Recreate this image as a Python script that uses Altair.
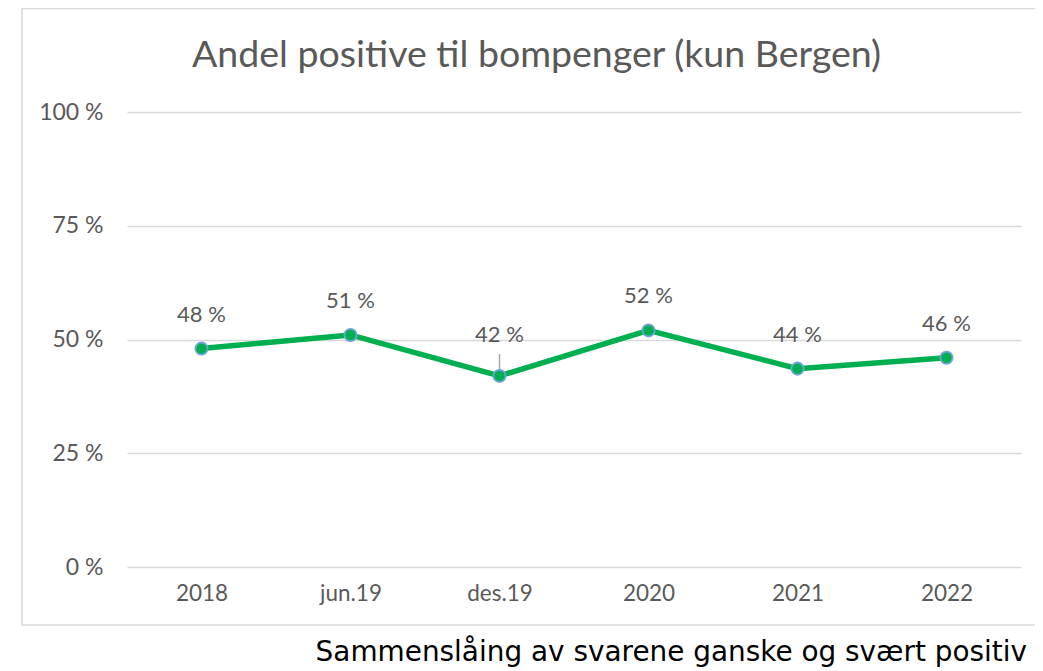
import altair as alt
import pandas as pd

categories = ["2018", "jun.19", "des.19", "2020", "2021", "2022"]
values = [48.0, 51.0, 42.0, 52.0, 43.6, 46.0]
labels = ["48 %", "51 %", "42 %", "52 %", "44 %", "46 %"]
y_ticks = [0, 25, 50, 75, 100]

df = pd.DataFrame({"cat": categories, "val": values, "lab": labels})

GREEN = "#00b050"
GREY = "#595959"
LABEL_FONT = "Lato"

x_enc = alt.X("cat:N", sort=categories,
              scale=alt.Scale(type="point", padding=0.5),
              axis=alt.Axis(title=None, labelAngle=0, ticks=False, domain=False,
                            labelFont=LABEL_FONT, labelFontSize=22.5, labelColor=GREY,
                            labelPadding=15, grid=False))
y_enc = alt.Y("val:Q", scale=alt.Scale(domain=[0, 100], nice=False, zero=True),
              axis=alt.Axis(title=None, values=y_ticks, ticks=False, domain=False,
                            labelExpr="datum.value + ' %'",
                            labelFont=LABEL_FONT, labelFontSize=23, labelColor=GREY,
                            labelPadding=24, gridColor="#d9d9d9", gridWidth=1.5))

base = alt.Chart(df).encode(x=x_enc, y=y_enc)

line = base.mark_line(color=GREEN, strokeWidth=5.5)
pts = base.mark_point(filled=True, fill=GREEN, stroke="#6fa3dc", strokeWidth=1.8,
                      size=150, opacity=1)

text_normal = base.transform_filter(alt.datum.cat != "des.19").mark_text(
    font=LABEL_FONT, fontSize=22, color=GREY, baseline="alphabetic", dy=-27
).encode(text="lab:N")

text_special = base.transform_filter(alt.datum.cat == "des.19").mark_text(
    font=LABEL_FONT, fontSize=22, color=GREY, baseline="alphabetic", dy=-34
).encode(text="lab:N")

leader = base.transform_filter(alt.datum.cat == "des.19").transform_calculate(
    top="datum.val + 4.8"
).mark_rule(color="#a6a6a6", strokeWidth=1.5).encode(y2="top:Q")

frame = alt.Chart(alt.Data(values=[{}])).mark_rect(
    fillOpacity=0, stroke="#d9d9d9", strokeWidth=1.5
).encode(x=alt.value(-105), x2=alt.value(960), y=alt.value(-103.5), y2=alt.value(513))

title = alt.Chart(alt.Data(values=[{}])).mark_text(
    text="Andel positive til bompenger (kun Bergen)",
    font=LABEL_FONT, fontSize=37.5, color=GREY, align="center", baseline="alphabetic"
).encode(x=alt.value(409.5), y=alt.value(-45))

footer = alt.Chart(alt.Data(values=[{}])).mark_text(
    text="Sammenslåing av svarene ganske og svært positiv",
    font="DejaVu Sans", fontSize=27.9, color="#000000", align="right", baseline="alphabetic"
).encode(x=alt.value(900), y=alt.value(549))

chart = alt.layer(frame, leader, line, pts, text_normal, text_special, title, footer).properties(
    width=894, height=455,
    padding={"left": 119, "top": 104, "right": 14, "bottom": 104},
    autosize=alt.AutoSizeParams(type="none"),
    background="white",
).configure_view(strokeWidth=0, stroke=None)

chart.save("out.html", embed_options={"renderer": "svg", "actions": False})
